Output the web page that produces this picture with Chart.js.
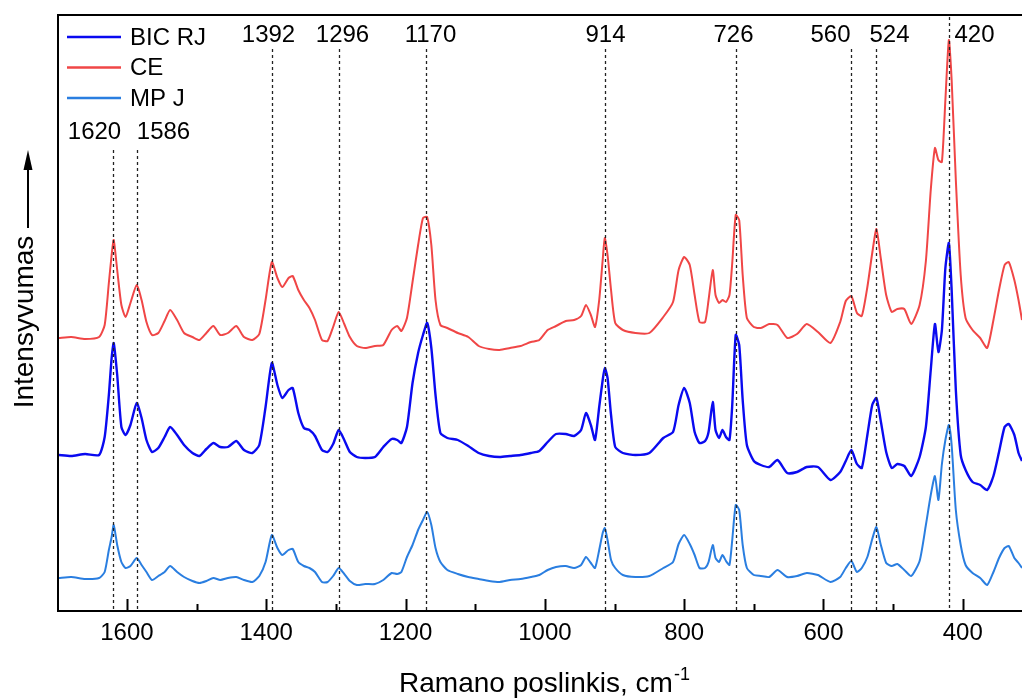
<!DOCTYPE html>
<html>
<head>
<meta charset="utf-8">
<script src="https://cdn.jsdelivr.net/npm/chart.js@4.4.0/dist/chart.umd.min.js"></script>
<style>
  html, body { margin: 0; padding: 0; background: #fff; }
</style>
</head>
<body>
<canvas id="ramanChart" width="1022" height="700"></canvas>
<script>
// Ramano poslinkis, cm-1 (x)
const shifts = [
  1698, 1680, 1660, 1640, 1632, 1626, 1622, 1619, 1614, 1608,
  1602, 1595, 1586, 1579, 1572, 1564, 1555, 1546, 1538, 1528,
  1518, 1506, 1496, 1486, 1476, 1466, 1455, 1443, 1432, 1420,
  1410, 1401, 1392, 1384, 1377, 1368, 1362, 1354, 1346, 1338,
  1330, 1320, 1312, 1304, 1296, 1288, 1280, 1270, 1258, 1244,
  1232, 1220, 1212, 1206, 1198, 1190, 1182, 1175, 1169, 1163,
  1157, 1150, 1140, 1125, 1110, 1095, 1080, 1065, 1050, 1035,
  1020, 1008, 996, 984, 970, 958, 948, 941, 934, 928,
  922, 917, 914, 910, 905, 899, 888, 870, 850, 830,
  816, 808, 800, 792, 785, 778, 770, 765, 759, 755,
  750, 745, 740, 735, 731, 726, 721, 716, 710, 700,
  690, 678, 666, 652, 638, 624, 608, 590, 576, 568,
  560, 552, 545, 537, 530, 524, 518, 510, 502, 494,
  484, 474, 462, 453, 446, 440, 435, 430, 425, 420,
  416, 410, 403, 396, 386, 375, 365, 356, 348, 340,
  334, 326, 320, 315
];

// Intensyvumas (poslinkti spektrai, s. v.)
const bicRj = [
  156, 155, 157, 156, 174, 216, 253, 268, 236, 184,
  176, 186, 208, 193, 171, 159, 163, 174, 184, 176,
  166, 158, 155, 162, 168, 164, 164, 170, 161, 158,
  166, 204, 248, 226, 213, 221, 223, 198, 183, 181,
  175, 161, 159, 167, 181, 171, 159, 154, 153, 154,
  164, 172, 171, 168, 184, 228, 258, 276, 288, 263,
  216, 178, 173, 171, 165, 158, 155, 154, 155, 156,
  158, 160, 169, 177, 177, 175, 181, 198, 186, 171,
  204, 231, 243, 233, 196, 164, 158, 156, 158, 173,
  179, 206, 223, 208, 179, 168, 170, 179, 209, 181,
  173, 181, 174, 171, 206, 276, 266, 211, 166, 150,
  146, 144, 151, 138, 139, 144, 144, 131, 139, 150,
  161, 147, 143, 176, 206, 213, 191, 159, 143, 147,
  145, 135, 154, 184, 241, 287, 259, 281, 343, 368,
  321, 221, 156, 141, 129, 126, 121, 135, 159, 184,
  187, 176, 158, 150
];

const ce = [
  273, 274, 272, 274, 286, 328, 356, 371, 341, 306,
  294, 308, 326, 311, 289, 276, 278, 290, 301, 291,
  278, 274, 271, 278, 285, 276, 278, 285, 274, 271,
  277, 311, 349, 333, 324, 333, 335, 321, 311, 303,
  291, 271, 270, 284, 299, 287, 274, 265, 263, 265,
  266, 281, 285, 280, 293, 329, 366, 393, 394, 366,
  311, 286, 283, 278, 274, 265, 262, 261, 263, 265,
  269, 271, 281, 285, 290, 291, 295, 306, 296, 284,
  311, 351, 373, 356, 321, 288, 281, 278, 278, 294,
  309, 341, 354, 346, 316, 289, 289, 311, 341, 316,
  308, 311, 309, 316, 348, 396, 391, 336, 293, 284,
  283, 287, 286, 273, 277, 287, 279, 268, 289, 310,
  315, 298, 295, 324, 358, 382, 354, 316, 299, 302,
  302, 287, 306, 350, 421, 463, 451, 449, 511, 571,
  531, 431, 336, 293, 281, 273, 263, 291, 321, 346,
  349, 331, 311, 291
];

const mpJ = [
  33, 34, 32, 33, 39, 61, 74, 86, 66, 49,
  43, 45, 53, 46, 39, 31, 35, 39, 45, 39,
  34, 30, 28, 30, 33, 31, 33, 34, 31, 29,
  35, 49, 76, 63, 56, 61, 62, 49, 45, 43,
  39, 29, 29, 35, 43, 37, 30, 26, 27, 27,
  31, 38, 37, 39, 54, 66, 81, 91, 99, 86,
  63, 49, 41, 37, 34, 32, 30, 29, 31, 32,
  34, 36, 41, 44, 45, 43, 46, 54, 48, 43,
  61, 78, 83, 71, 51, 43, 36, 34, 35, 43,
  49, 67, 76, 67, 56, 43, 43, 49, 66, 53,
  49, 56, 50, 46, 71, 106, 101, 66, 43, 36,
  35, 34, 41, 34, 35, 38, 36, 29, 34, 43,
  50, 39, 43, 54, 72, 84, 67, 48, 45, 47,
  41, 35, 50, 86, 116, 135, 111, 147, 171, 186,
  166, 101, 66, 46, 38, 33, 26, 39, 53, 63,
  65, 53, 48, 43
];

const seriesNames = ['BIC RJ', 'CE', 'MP J'];
const peakMarks = [1620, 1586, 1392, 1296, 1170, 914, 726, 560, 524, 420];
const xTicks = [1600, 1400, 1200, 1000, 800, 600, 400];
const xMinorTicks = [1500, 1300, 1100, 900, 700, 500];

const FONT = '"Liberation Sans", Arial, sans-serif';

// Išdėstymas: etikečių poslinkis nuo linijos (px) ir eilutė
const peakLabelLayout = {
  1620: { dx: -19, row: 1 }, 1586: { dx: 26, row: 1 },
  1392: { dx: -4, row: 0 }, 1296: { dx: 3, row: 0 }, 1170: { dx: 4, row: 0 },
  914: { dx: 0, row: 0 }, 726: { dx: -3, row: 0 }, 560: { dx: -21, row: 0 },
  524: { dx: 13, row: 0 }, 420: { dx: 25, row: 0, fullLine: true }
};

const toPoints = (ys) => shifts.map((s, i) => ({ x: s, y: ys[i] }));

// Rėmelis, žymos, smailių linijos, legenda ir ašių pavadinimai
const decorations = {
  id: 'decorations',
  afterDatasetsDraw(chart) {
    const { ctx, chartArea: a, scales: { x } } = chart;
    ctx.save();

    // kairė ir viršutinė rėmelio linijos
    ctx.strokeStyle = '#000';
    ctx.lineWidth = 2;
    ctx.beginPath();
    ctx.moveTo(a.left, a.bottom);
    ctx.lineTo(a.left, a.top);
    ctx.lineTo(a.right, a.top);
    ctx.stroke();

    // vidinės žymos ant x ašies
    ctx.lineWidth = 2;
    xTicks.forEach(v => {
      const px = Math.round(x.getPixelForValue(v)) + 0.5;
      ctx.beginPath(); ctx.moveTo(px, a.bottom); ctx.lineTo(px, a.bottom - 12); ctx.stroke();
    });
    xMinorTicks.forEach(v => {
      const px = Math.round(x.getPixelForValue(v)) + 0.5;
      ctx.beginPath(); ctx.moveTo(px, a.bottom); ctx.lineTo(px, a.bottom - 7); ctx.stroke();
    });

    // smailių brūkšninės linijos ir etiketės
    ctx.font = '24px ' + FONT;
    ctx.fillStyle = '#000';
    ctx.textAlign = 'center';
    ctx.textBaseline = 'middle';
    peakMarks.forEach(v => {
      const lay = peakLabelLayout[v];
      const px = Math.round(x.getPixelForValue(v)) + 0.5;
      const top = lay.fullLine ? a.top + 2 : (lay.row === 1 ? 150 : 49);
      ctx.save();
      ctx.strokeStyle = '#222';
      ctx.lineWidth = 1.3;
      ctx.setLineDash([3, 3]);
      ctx.beginPath(); ctx.moveTo(px, top); ctx.lineTo(px, a.bottom); ctx.stroke();
      ctx.restore();
      ctx.fillText(String(v), px + lay.dx, lay.row === 1 ? 132 : 35);
    });

    // legenda
    ctx.textAlign = 'left';
    chart.data.datasets.forEach((ds, i) => {
      const y = 37 + i * 30.5;
      ctx.strokeStyle = ds.borderColor;
      ctx.lineWidth = 2.5;
      ctx.beginPath(); ctx.moveTo(67, y); ctx.lineTo(121, y); ctx.stroke();
      ctx.fillStyle = '#000';
      ctx.fillText(ds.label, 130, y + 1);
    });

    // x ašies pavadinimas su laipsniu
    const main = 'Ramano poslinkis, cm';
    const sup = '-1';
    ctx.font = '28px ' + FONT;
    const wMain = ctx.measureText(main).width;
    ctx.font = '18px ' + FONT;
    const wSup = ctx.measureText(sup).width;
    const startX = 544 - (wMain + wSup) / 2;
    ctx.textBaseline = 'alphabetic';
    ctx.font = '28px ' + FONT;
    ctx.fillText(main, startX, 692);
    ctx.font = '18px ' + FONT;
    ctx.fillText(sup, startX + wMain + 1, 680);

    // y ašies pavadinimas su rodykle
    ctx.save();
    ctx.translate(25, 322);
    ctx.rotate(-Math.PI / 2);
    ctx.font = '28px ' + FONT;
    ctx.textAlign = 'center';
    ctx.textBaseline = 'middle';
    ctx.fillText('Intensyvumas', 0, 0);
    ctx.restore();

    ctx.strokeStyle = '#000';
    ctx.lineWidth = 2;
    ctx.beginPath(); ctx.moveTo(28, 228); ctx.lineTo(28, 165); ctx.stroke();
    ctx.fillStyle = '#000';
    ctx.beginPath(); ctx.moveTo(28, 150); ctx.lineTo(23.5, 170); ctx.lineTo(32.5, 170); ctx.closePath(); ctx.fill();

    ctx.restore();
  }
};

new Chart(document.getElementById('ramanChart').getContext('2d'), {
  type: 'line',
  data: {
    datasets: [
      { label: seriesNames[0], data: toPoints(bicRj), borderColor: '#0a0af0', borderWidth: 2.4 },
      { label: seriesNames[1], data: toPoints(ce), borderColor: '#f04646', borderWidth: 2 },
      { label: seriesNames[2], data: toPoints(mpJ), borderColor: '#2a7ee0', borderWidth: 2 }
    ]
  },
  options: {
    responsive: false,
    animation: false,
    devicePixelRatio: 1,
    layout: { padding: { left: 58, top: 15, right: 0, bottom: 0 } },
    elements: { point: { radius: 0 }, line: { tension: 0.2, borderJoinStyle: 'round' } },
    plugins: { legend: { display: false }, tooltip: { enabled: false } },
    scales: {
      x: {
        type: 'linear',
        reverse: true,
        min: 315,
        max: 1699,
        afterBuildTicks: (scale) => { scale.ticks = xTicks.map(v => ({ value: v })); },
        afterFit: (scale) => { scale.height = 89; },
        grid: { display: false, drawTicks: false },
        border: { display: true, color: '#000', width: 2 },
        ticks: {
          color: '#000',
          padding: 8,
          maxRotation: 0,
          autoSkip: false,
          font: { size: 24, family: FONT },
          callback: (value) => String(value)
        }
      },
      y: { display: false, min: 0, max: 596 }
    }
  },
  plugins: [decorations]
});
</script>
</body>
</html>
